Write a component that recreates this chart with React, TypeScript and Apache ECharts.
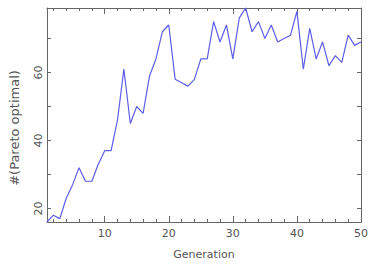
import React, { useEffect, useRef } from "react";
import * as echarts from "echarts";

const generations: number[] = [
  1, 2, 3, 4, 5, 6, 7, 8, 9, 10, 11, 12, 13, 14, 15, 16, 17, 18, 19, 20, 21, 22, 23, 24, 25,
  26, 27, 28, 29, 30, 31, 32, 33, 34, 35, 36, 37, 38, 39, 40, 41, 42, 43, 44, 45, 46, 47, 48, 49, 50,
];
const paretoOptimal: number[] = [
  16, 18, 17, 23, 27, 32, 28, 28, 33, 37, 37, 46, 61, 45, 50, 48, 59, 64, 72, 74, 58, 57, 56, 58, 64,
  64, 75, 69, 74, 64, 76, 79, 72, 75, 70, 74, 69, 70, 71, 78, 61, 73, 64, 69, 62, 65, 63, 71, 68, 69,
];
const xMajorTicks: number[] = [10, 20, 30, 40, 50];
const xMinorTicks: number[] = [2, 4, 6, 8, 12, 14, 16, 18, 22, 24, 26, 28, 32, 34, 36, 38, 42, 44, 46, 48];
const yTicks: number[] = [20, 30, 40, 50, 60, 70];
const yLabels: number[] = [20, 40, 60];
const xRange = [1, 50];
const yRange = [16, 79];

const AXIS_COLOR = "#666";
const TEXT_COLOR = "#555";
const FONT = "DejaVu Sans";

export default function App() {
  const ref = useRef<HTMLDivElement>(null);
  useEffect(() => {
    if (!ref.current) return;
    const chart = echarts.init(ref.current, undefined, { renderer: "svg" });
    const baseX = {
      type: "value" as const,
      min: xRange[0],
      max: xRange[1],
      splitLine: { show: false },
      offset: 0,
    };
    const baseY = {
      type: "value" as const,
      min: yRange[0],
      max: yRange[1],
      splitLine: { show: false },
      offset: 0,
    };
    const line = { show: true, lineStyle: { color: AXIS_COLOR, width: 1 } };
    chart.setOption({
      animation: false,
      grid: { left: 37, top: 8, right: 5, bottom: 37, containLabel: false },
      xAxis: [
        {
          ...baseX,
          position: "bottom",
          axisLine: line,
          axisTick: { show: true, inside: true, length: 6, customValues: xMajorTicks, lineStyle: { color: AXIS_COLOR } },
          axisLabel: {
            show: true,
            customValues: xMajorTicks,
            margin: 6,
            color: TEXT_COLOR,
            fontSize: 11,
            fontFamily: FONT,
          },
          name: "Generation",
          nameLocation: "middle",
          nameGap: 27,
          nameTextStyle: { color: TEXT_COLOR, fontSize: 11, fontFamily: FONT },
        },
        {
          ...baseX,
          position: "bottom",
          axisLine: { show: false },
          axisTick: { show: true, inside: true, length: 3, customValues: xMinorTicks, lineStyle: { color: AXIS_COLOR } },
          axisLabel: { show: false },
        },
        {
          ...baseX,
          position: "top",
          axisLine: line,
          axisTick: { show: true, inside: true, length: 6, customValues: xMajorTicks, lineStyle: { color: AXIS_COLOR } },
          axisLabel: { show: false },
        },
        {
          ...baseX,
          position: "top",
          axisLine: { show: false },
          axisTick: { show: true, inside: true, length: 3, customValues: xMinorTicks, lineStyle: { color: AXIS_COLOR } },
          axisLabel: { show: false },
        },
      ],
      yAxis: [
        {
          ...baseY,
          position: "left",
          axisLine: line,
          axisTick: { show: true, inside: true, length: 4, customValues: yTicks, lineStyle: { color: AXIS_COLOR } },
          axisLabel: {
            show: true,
            customValues: yLabels,
            rotate: 90,
            margin: 3,
            color: TEXT_COLOR,
            fontSize: 11,
            fontFamily: FONT,
          },
          name: "#(Pareto optimal)",
          nameLocation: "middle",
          nameGap: 26,
          nameTextStyle: { color: TEXT_COLOR, fontSize: 13, fontFamily: FONT, padding: [0, 26, 0, 0] },
        },
        {
          ...baseY,
          position: "right",
          axisLine: line,
          axisTick: { show: true, inside: true, length: 4, customValues: yTicks, lineStyle: { color: AXIS_COLOR } },
          axisLabel: { show: false },
        },
      ],
      series: [
        {
          type: "line",
          xAxisIndex: 0,
          yAxisIndex: 0,
          data: generations.map((g, i) => [g, paretoOptimal[i]]),
          showSymbol: false,
          symbol: "none",
          lineStyle: { color: "#5e5ee8", width: 1.2 },
          clip: false,
        },
      ],
    });
    return () => chart.dispose();
  }, []);
  return <div ref={ref} style={{ width: 371, height: 265, position: "absolute", left: 0, top: 0 }} />;
}
